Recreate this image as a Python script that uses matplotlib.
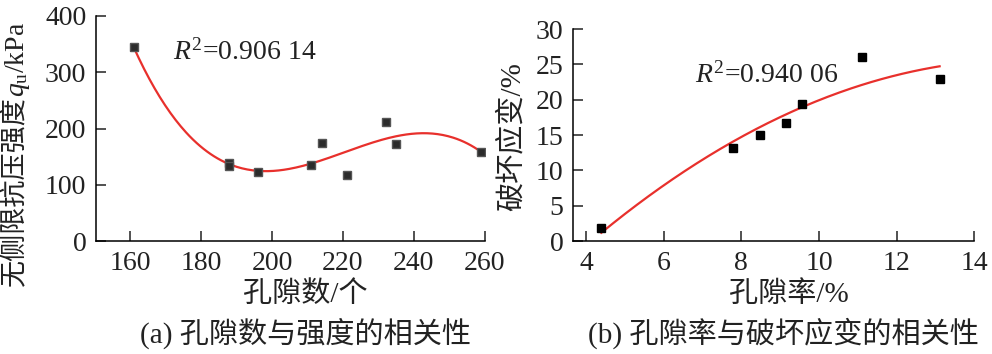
import numpy as np
import matplotlib
matplotlib.use('Agg')
from matplotlib import pyplot as plt

plt.rcParams['font.family'] = ['Liberation Serif', 'Noto Sans CJK SC']
plt.rcParams['mathtext.fontset'] = 'custom'
plt.rcParams['mathtext.rm'] = 'Liberation Serif'
plt.rcParams['mathtext.it'] = 'Liberation Serif:italic'
plt.rcParams['axes.unicode_minus'] = False

# (a) pore count vs. unconfined compressive strength
pore_count = [161, 188, 188, 196, 211, 214, 221, 232, 235, 259]
strength = [345, 139, 133, 122, 136, 175, 118, 211, 172, 158]

# (b) porosity vs. failure strain
porosity = [4.39, 7.79, 8.49, 9.15, 9.56, 11.11, 13.11]
strain = [1.8, 13.2, 15.0, 16.7, 19.4, 26.0, 23.0]

red = '#e8302c'
txt = '#222222'
fs = 20

fig = plt.figure(figsize=(9.92, 3.54), dpi=100)
ax1 = fig.add_axes([0.0968, 0.319, 0.392, 0.636])
ax2 = fig.add_axes([0.578, 0.319, 0.404, 0.599])

def style(ax):
    for s in ['top', 'right']:
        ax.spines[s].set_visible(False)
    for s in ['left', 'bottom']:
        ax.spines[s].set_linewidth(1.1)
    ax.tick_params(direction='in', length=7, width=1.1, labelsize=fs, pad=7,
                   colors=txt)

# left panel
c1 = np.polyfit(pore_count, strength, 3)
xx = np.linspace(min(pore_count), max(pore_count), 200)
ax1.plot(xx, np.polyval(c1, xx), color=red, lw=1.6, zorder=2)
ax1.plot(pore_count, strength, 's', color='#2b2b2b', ms=6, mec='#555555', zorder=3)
ax1.set_xlim(150.4, 260)
ax1.set_ylim(0, 400)
ax1.set_xticks([160, 180, 200, 220, 240, 260])
ax1.set_yticks([0, 100, 200, 300, 400])
style(ax1)
ax1.text(172, 336, '$R^2$=0.906 14', fontsize=fs, color=txt, va='center', ha='left')

# right panel
c2 = np.polyfit(porosity, strain, 2)
xx2 = np.linspace(min(porosity), max(porosity), 200)
ax2.plot(xx2, np.polyval(c2, xx2), color=red, lw=1.6, zorder=2)
ax2.plot(porosity, strain, 's', color='black', ms=6, zorder=3)
ax2.set_xlim(3.67, 14)
ax2.set_ylim(0, 30)
ax2.set_xticks([4, 6, 8, 10, 12, 14])
ax2.set_yticks([0, 5, 10, 15, 20, 25, 30])
style(ax2)
ax2.text(6.8, 23.5, '$R^2$=0.940 06', fontsize=fs, color=txt, va='center', ha='left')

# labels
fig.text(16/992, 1 - 286/354, '无侧限抗压强度', rotation=90,
         ha='center', va='bottom', fontsize=19.5, color=txt)
fig.text(17/992, 1 - 97/354, '$q_\\mathrm{u}$/kPa', rotation=90,
         ha='center', va='bottom', fontsize=20, color=txt)
fig.text(512/992, 1 - 137/354, '破坏应变/%', rotation=90,
         ha='center', va='center', fontsize=21, color=txt)
fig.text(305/992, 1 - 295/354, '孔隙数/个', ha='center', va='center', fontsize=21, color=txt)
fig.text(789/992, 1 - 295/354, '孔隙率/%', ha='center', va='center', fontsize=21, color=txt)
fig.text(306/992, 1 - 333/354, '(a) 孔隙数与强度的相关性', ha='center', va='center',
         fontsize=21, color=txt)
fig.text(783/992, 1 - 333/354, '(b) 孔隙率与破坏应变的相关性', ha='center', va='center',
         fontsize=21, color=txt)

fig.savefig('out.png', dpi=100)
